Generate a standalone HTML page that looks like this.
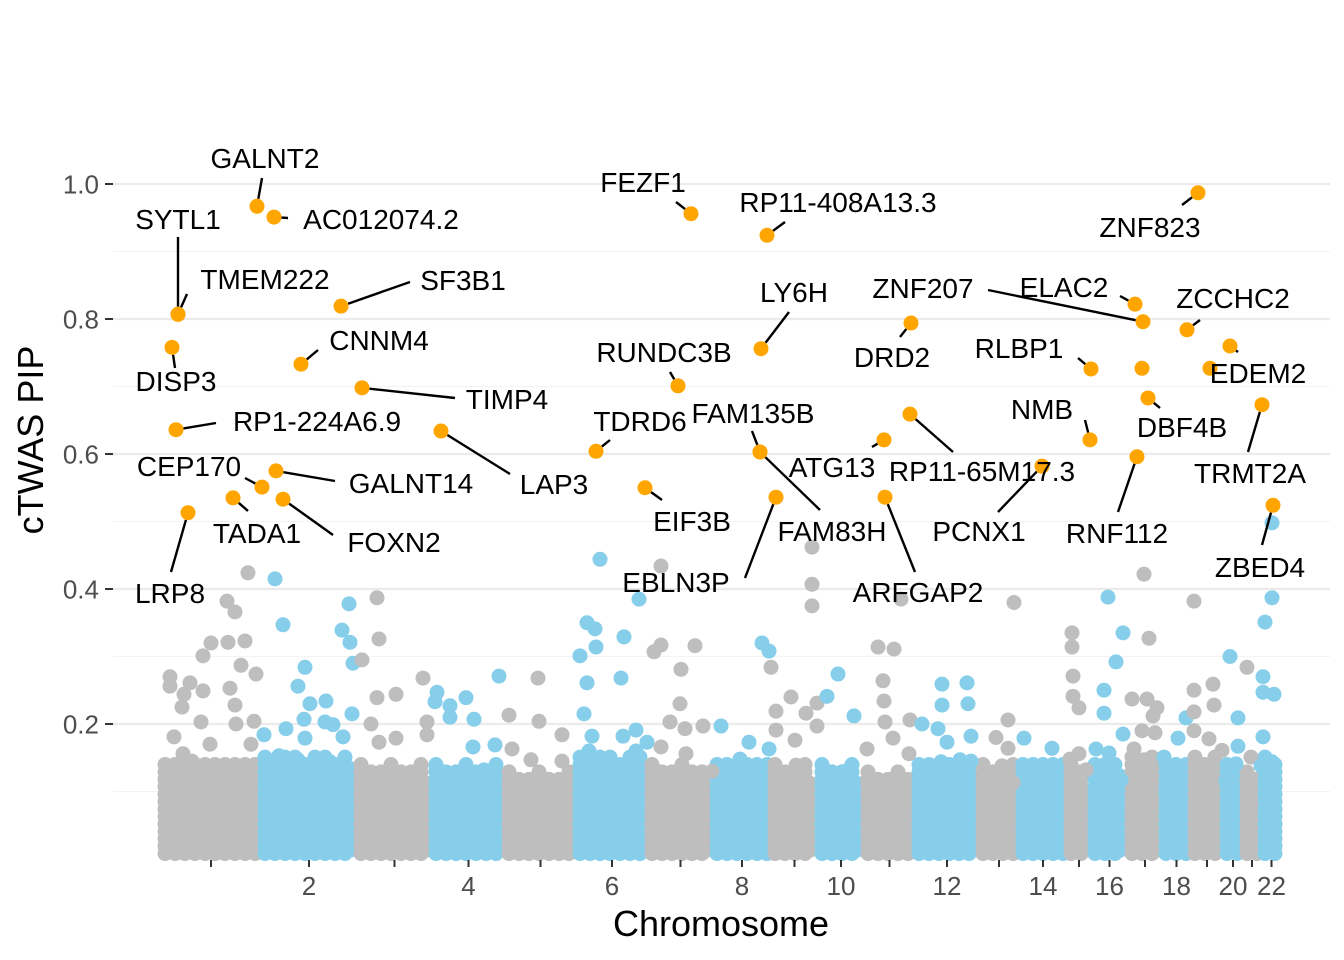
<!DOCTYPE html>
<html><head><meta charset="utf-8"><title>cTWAS PIP Manhattan plot</title>
<style>html,body{margin:0;padding:0;background:#fff}svg{display:block;font-family:"Liberation Sans",Arial,sans-serif}</style>
</head><body>
<svg id="chart" width="1344" height="960" viewBox="0 0 1344 960">
<g id="grid"></g>
<g id="band"></g>
<g id="bg"></g>
<g id="segs"></g>
<g id="hits"></g>
<g id="labels"></g>
<g id="axes"></g>
<text x="721" y="936" text-anchor="middle" font-size="36" fill="#000">Chromosome</text>
<text transform="translate(43,440) rotate(-90)" text-anchor="middle" font-size="36" fill="#000">cTWAS PIP</text>
</svg>
<script>
const chrLen = [100,96,75,73,71,72,65,58,47,46,51,64,40,48,24,37,34,29,32,20,18,21];
const bandTop = [0.15,0.16,0.14,0.14,0.13,0.16,0.14,0.15,0.14,0.14,0.13,0.15,0.14,0.15,0.14,0.15,0.16,0.15,0.16,0.14,0.13,0.16];
const yTicks = [0.2,0.4,0.6,0.8,1.0];
const yTickLabels = ["0.2","0.4","0.6","0.8","1.0"];
const bgPos = [87,66,74,50,42,67,84,80,95,9,23,42,21,40,69,74,75,93,13,49,22,31,90,9,29,
114,122,188,181,189,192,144,137,149,165,143,164,172,182,144,125,103,191,169,118,137,
216,218,201,216,235,262,210,235,266,266,218,
338,274,289,305,289,313,312,334,275,323,305,276,
377,348,378,401,351,370,401,
439,478,426,434,435,463,419,426,460,423,431,462,475,428,475,434,459,
500,500,493,534,520,519,509,524,542,486,500,525,
560,601,568,579,596,551,588,
651,651,651,610,615,630,615,634,645,608,635,608,
656,666,656,677,693,671,684,
717,733,740,723,724,732,749,706,748,707,722,
761,781,807,810,777,786,780,799,810,760,781,806,
853,847,841,830,852,847,835,
862,880,891,863,891,
911,912,912,918,909,918,925,911,
947,962,955,943,962,935,948,960,943,
983,988,986,992,996,981,994,973,983,971,
1003,1005,1025,1017,
1033,1033,1033,1048,1053,1033,1052,
1069,1077,1061,1075,1065,1077,
1086,1090,1086,1090,
1111,1104,1102,1102,1113,1100,1111,1111,1113,1102];
const bgVal = [.424,.382,.366,.32,.301,.321,.323,.287,.274,.256,.244,.249,.225,.203,.253,.228,.2,.204,.181,.17,.156,.145,.17,.27,.261,
.415,.347,.378,.339,.321,.29,.284,.256,.23,.234,.207,.203,.199,.181,.179,.193,.184,.215,.144,.153,.147,
.387,.326,.295,.239,.244,.268,.2,.179,.203,.184,.173,
.271,.233,.227,.239,.21,.207,.166,.169,.136,.132,.133,.247,
.268,.213,.204,.184,.163,.147,.145,
.444,.385,.35,.341,.314,.329,.301,.261,.268,.215,.182,.182,.191,.16,.16,.133,.139,
.434,.317,.307,.316,.281,.23,.203,.193,.197,.173,.166,.156,
.197,.32,.132,.148,.132,.13,.173,
.462,.407,.375,.284,.219,.24,.191,.176,.216,.163,.139,.308,
.231,.241,.197,.274,.212,.119,.13,
.314,.311,.385,.234,.203,.179,.206,.163,.156,.113,.264,
.2,.228,.23,.182,.193,.173,.144,.147,.145,.104,.259,.261,
.38,.164,.138,.104,.113,.206,.18,
.138,.121,.119,.179,.164,
.314,.271,.241,.224,.148,.156,.132,.335,
.388,.335,.292,.216,.185,.163,.157,.117,.25,
.422,.327,.237,.212,.224,.19,.187,.163,.147,.237,
.151,.1,.209,.179,
.382,.25,.218,.178,.228,.19,.259,
.3,.167,.161,.141,.116,.209,
.284,.151,.116,.081,
.387,.351,.27,.247,.244,.138,.144,.498,.102,.181];
const hitGene = ["GALNT2","AC012074.2","SYTL1","TMEM222","DISP3","RP1-224A6.9","GALNT14","CEP170","TADA1","FOXN2","LRP8","SF3B1","CNNM4","TIMP4","LAP3","FEZF1","RP11-408A13.3","LY6H","RUNDC3B","TDRD6","FAM135B","EIF3B","FAM83H","EBLN3P","ATG13","RP11-65M17.3","DRD2","ZNF207","ELAC2","ARFGAP2","PCNX1","NMB","RLBP1","DBF4B","RNF112","ZNF823","ZCCHC2","EDEM2","TRMT2A","ZBED4","",""];
const hitPos = [96,113,17,17,11,15,115,101,72,122,27,180,140,201,280,530,606,600,517,435,599,484,599,615,723,749,750,982,974,724,881,929,930,987,976,1037,1026,1069,1101,1112,981,1049];
const hitVal = [.967,.951,.807,.807,.758,.636,.575,.551,.535,.533,.513,.819,.733,.698,.634,.956,.924,.756,.701,.604,.603,.55,.603,.536,.621,.659,.794,.796,.822,.536,.582,.621,.726,.683,.596,.987,.784,.76,.673,.524,.727,.727];
</script>
<script>
// label layout (annotation placement, not data): [centerX, centerY, connectorStartX, connectorStartY]
const labelLayout = [[265,158,262,178],[381,219,288,218],[178,219,178,237],[265,279,187,294],[176,381,175,368],[317,421,216,423],[411,483,335,481],[189,466,245,478],[257,533,248,511],[394,542,333,535],[170,593,171,572],[463,280,410,282],[379,340,318,350],[507,399,455,398],[554,484,510,474],[643,182,676,202],[838,202,785,222],[794,292,789,312],[664,352,670,372],[640,421,610,440],[753,413,752,431],[692,521,662,500],[832,531,820,510],[676,582,745,578],[832,467,872,447],[982,471,953,452],[892,357,900,337],[923,288,988,290],[1064,287,1120,296],[918,592,915,572],[979,531,998,512],[1042,409,1085,420],[1019,348,1078,358],[1182,427,1160,408],[1117,533,1118,512],[1150,227,1182,205],[1233,298,1200,320],[1258,373,1238,352],[1250,473,1248,452],[1260,567,1262,545]];
const NS="http://www.w3.org/2000/svg";
const X0=161, PXU=1, Y0=859, PYU=675, R=7.5;
const xs=p=>X0+p*PXU, ys=v=>Y0-v*PYU;
const chrStart=[];let acc=0;for(const l of chrLen){chrStart.push(acc);acc+=l;}
function chrOf(p){for(let i=chrLen.length-1;i>=0;i--)if(p>=chrStart[i])return i;return 0;}
const col=i=>i%2===0?"#bebebe":"#87ceeb";
function mk(tag,attrs,parent){const e=document.createElementNS(NS,tag);for(const k in attrs)e.setAttribute(k,attrs[k]);parent.appendChild(e);return e;}
const grid=document.getElementById('grid');
for(let v=0.1;v<=1.05;v+=0.1){const major=Math.round(v*10)%2===0;
 const l=mk('line',{x1:113,x2:1330,y1:ys(v),y2:ys(v),stroke:major?'#ebebeb':'#f3f3f3','stroke-width':major?2.2:1.1},grid);
 
 }
// dense band (density rendering; top edge staggered for packing look)
const band=document.getElementById('band');
chrLen.forEach((len,i)=>{let colIdx=0;
 for(let p=chrStart[i]+4;p<=chrStart[i]+len-4;p+=5,colIdx++){
  const top=bandTop[i]-[0,0.025,0.01,0.035,0.005,0.02][colIdx%6];
  for(let v=0.008+(colIdx%2)*0.005;v<=top;v+=0.011){
   const c=mk('circle',{cx:xs(p),cy:ys(v),r:R,fill:col(i)},band);
   
   }}});
const bg=document.getElementById('bg');
bgPos.forEach((p,k)=>{const c=mk('circle',{cx:xs(p),cy:ys(bgVal[k]),r:R,fill:col(chrOf(p))},bg);
 
 });
const segs=document.getElementById('segs'),hits=document.getElementById('hits'),labels=document.getElementById('labels');
hitPos.forEach((p,k)=>{const cx=xs(p),cy=ys(hitVal[k]);
 const L=labelLayout[k];
 if(L&&hitGene[k]){const dx=cx-L[2],dy=cy-L[3],d=Math.hypot(dx,dy)||1;
  const s=mk('line',{x1:L[2],y1:L[3],x2:cx-dx/d*R,y2:cy-dy/d*R,stroke:'#000','stroke-width':2.4},segs);
  
  
  const t=mk('text',{x:L[0],y:L[1]+10,'text-anchor':'middle','font-size':28,fill:'#000'},labels);
  t.textContent=hitGene[k];
  
  }
 const c=mk('circle',{cx:cx,cy:cy,r:R,fill:'#ffa500'},hits);
 
 });
const axes=document.getElementById('axes');
yTicks.forEach((v,k)=>{const t=mk('line',{x1:105,x2:113,y1:ys(v),y2:ys(v),stroke:'#333','stroke-width':2},axes);
 
 
 const tx=mk('text',{x:99,y:ys(v)+9.5,'text-anchor':'end','font-size':26,fill:'#4d4d4d'},axes);
 tx.textContent=yTickLabels[k];
 
 });
chrLen.forEach((len,i)=>{const x=xs(chrStart[i]+len/2);
 const t=mk('line',{x1:x,x2:x,y1:860,y2:867,stroke:'#333','stroke-width':2},axes);
 
 
 if((i+1)%2===0){const tx=mk('text',{x:x,y:895,'text-anchor':'middle','font-size':26,fill:'#4d4d4d'},axes);
  tx.textContent=String(i+1);
  
  }});
</script>
</body></html>
